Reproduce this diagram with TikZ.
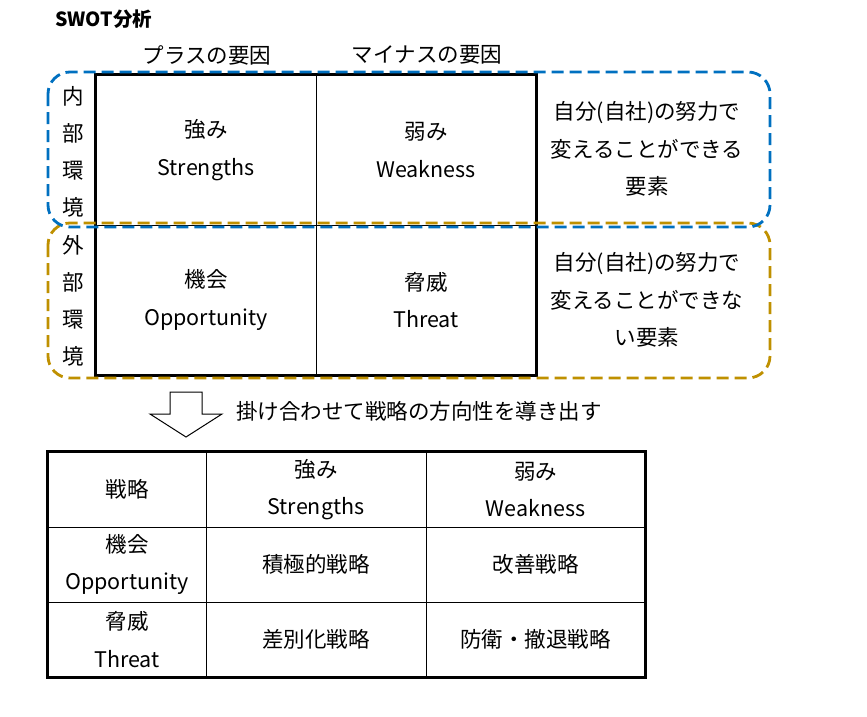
\documentclass[tikz,border=0pt]{standalone}
\usepackage{fontspec}
\setmainfont{Noto Sans CJK JP}
\usetikzlibrary{positioning}

\definecolor{inblue}{RGB}{0,112,192}
\definecolor{outgold}{RGB}{191,144,0}

\tikzset{
  txt/.style={inner sep=0, align=center, font=\fontsize{21.5}{37.5}\selectfont},
  cell/.style={txt, draw, line width=0.8pt, minimum width=220pt, minimum height=150pt},
  tcell/.style={txt, draw, line width=0.8pt, minimum height=75pt},
  envbox/.style={line width=2.8pt, dash pattern=on 12pt off 6pt, rounded corners=22pt},
}

\begin{document}
\begin{tikzpicture}[x=1pt, y=-1pt]
  \useasboundingbox (0,0) rectangle (867,717);

  % title
  \node[anchor=west, inner sep=0, font=\fontsize{19.5}{22}\selectfont\bfseries] (title) at (55,19) {SWOT分析};

  % column heads
  \node[txt] (plus) at (207,55) {プラスの要因};
  \node[txt] (minus) at (427,55) {マイナスの要因};

  % matrix
  \node[cell] (S) at (206,150) {強み\\Strengths};
  \node[cell] (W) at (426,150) {弱み\\Weakness};
  \node[cell] (O) at (206,300) {機会\\Opportunity};
  \node[cell] (T) at (426,300) {脅威\\Threat};
  \draw[line width=2.5pt] (S.north west) rectangle (T.south east);

  % row heads
  \node[txt, font=\fontsize{21.5}{37}\selectfont] (inner) at (73,152) {内\\部\\環\\境};
  \node[txt, font=\fontsize{21.5}{37}\selectfont] (outer) at (73,301) {外\\部\\環\\境};

  % notes
  \node[txt] (innote) at (647,149) {自分(自社)の努力で\\変えることができる\\要素};
  \node[txt] (outnote) at (647,300) {自分(自社)の努力で\\変えることができな\\い要素};

  % dashed groups
  \draw[envbox, outgold] (48,223) rectangle (770,378);
  \draw[envbox, inblue] (48,72) rectangle (770,227);

  % arrow
  \draw[line width=1pt, fill=white] (170,392) -- (202,392) -- (202,414) -- (222,414) -- (186,437) -- (150,414) -- (170,414) -- cycle;
  \node[txt, anchor=west] (cross) at (236,411) {掛け合わせて戦略の方向性を導き出す};

  % strategy table
  \node[tcell, minimum width=158pt] (c00) at (127,489.5) {戦略};
  \node[tcell, minimum width=220pt] (c01) at (316,489.5) {強み\\Strengths};
  \node[tcell, minimum width=219pt] (c02) at (535.5,489.5) {弱み\\Weakness};
  \node[tcell, minimum width=158pt] (c10) at (127,564.5) {機会\\Opportunity};
  \node[tcell, minimum width=220pt] (c11) at (316,564.5) {積極的戦略};
  \node[tcell, minimum width=219pt] (c12) at (535.5,564.5) {改善戦略};
  \node[tcell, minimum width=158pt] (c20) at (127,639.5) {脅威\\Threat};
  \node[tcell, minimum width=220pt] (c21) at (316,639.5) {差別化戦略};
  \node[tcell, minimum width=219pt] (c22) at (535.5,639.5) {防衛・撤退戦略};
  \draw[line width=2.5pt] (c00.north west) rectangle (c22.south east);
\end{tikzpicture}
\end{document}
